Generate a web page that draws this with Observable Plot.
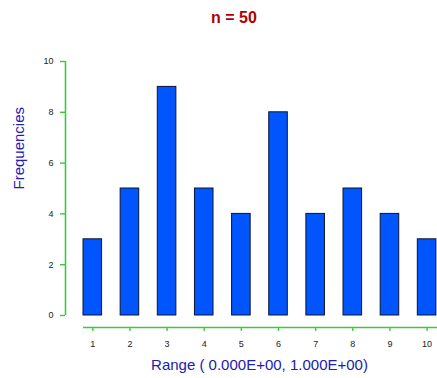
<!DOCTYPE html>
<html>
<head>
<meta charset="utf-8">
<script src="https://cdn.jsdelivr.net/npm/d3@7"></script>
<script src="https://cdn.jsdelivr.net/npm/@observablehq/plot@0.6"></script>
<style>
  html, body { margin: 0; padding: 0; background: #fff; }
  #title { width: 437px; height: 40px; box-sizing: border-box; padding-left: 31px; padding-top: 8px;
    text-align: center; font: bold 16px "Liberation Sans", Arial, sans-serif; color: #b00000; line-height: 20px; }
  svg { display: block; }
</style>
</head>
<body>
<div id="title"></div>
<div id="chart"></div>
<script>
const titleText = "n = 50";
const categories = [1, 2, 3, 4, 5, 6, 7, 8, 9, 10];
const frequencies = [3, 5, 9, 5, 4, 8, 4, 5, 4, 3];
const yTicks = [0, 2, 4, 6, 8, 10];
const xLabel = "Range ( 0.000E+00, 1.000E+00)";
const yLabel = "Frequencies";

document.getElementById("title").textContent = titleText;

const data = categories.map((c, i) => ({bin: c, count: frequencies[i]}));
const green = "#3cc83c";
const halfWidth = 0.25;

const chart = Plot.plot({
  width: 437,
  height: 338,
  marginLeft: 83,
  marginRight: 0,
  marginTop: 21,
  marginBottom: 63,
  style: {fontFamily: "'Liberation Sans', Arial, sans-serif", fontSize: "9px", color: "#222"},
  x: {domain: [0.75, 10.28]},
  y: {domain: [0, 10]},
  marks: [
    Plot.ruleX([0.75], {dx: -18, stroke: green, strokeWidth: 1.6}),
    Plot.ruleY([0], {dy: 12, stroke: green, strokeWidth: 1.6}),
    Plot.axisY({ticks: yTicks, dx: -18, tickSize: 5, tickPadding: 7, stroke: green, strokeWidth: 1.4, fill: "#222",
      label: null, fontSize: 9}),
    Plot.axisX({ticks: categories, dy: 12, tickSize: 4, tickPadding: 9, stroke: green, strokeWidth: 1.4, fill: "#222",
      label: null, tickFormat: d => String(d), fontSize: 9}),
    Plot.rectY(data, {x1: d => d.bin - halfWidth, x2: d => d.bin + halfWidth, y1: 0, y2: "count",
      fill: "#0055ff", stroke: "#0a1530", strokeWidth: 1}),
    Plot.text([yLabel], {frameAnchor: "left", dx: -64, dy: 1, rotate: -90, fill: "#2020b0", fontSize: 15}),
    Plot.text([xLabel], {frameAnchor: "bottom", dy: 54, dx: -1, fill: "#2020b0", fontSize: 15})
  ]
});
document.getElementById("chart").appendChild(chart);
</script>
</body>
</html>
